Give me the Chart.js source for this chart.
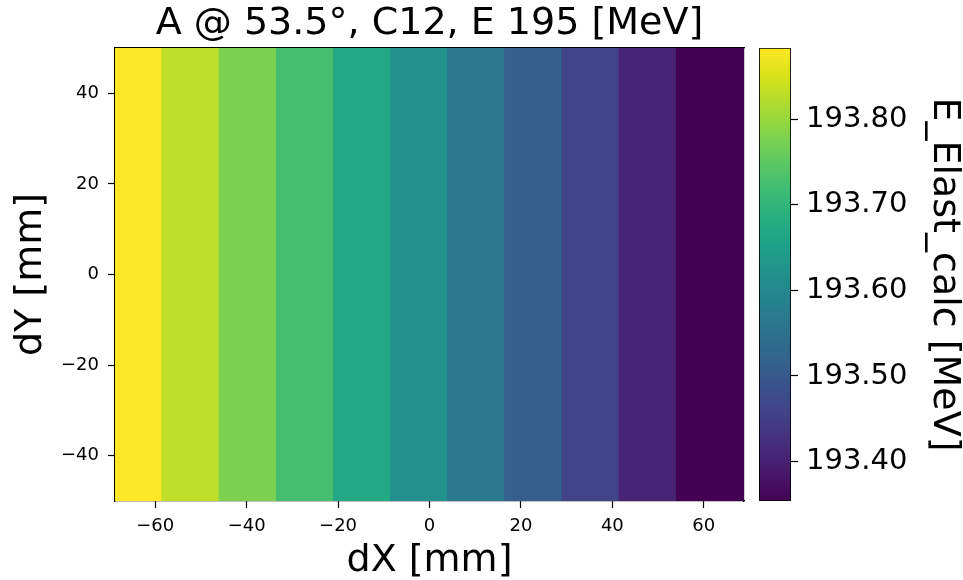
<!DOCTYPE html>
<html>
<head>
<meta charset="utf-8">
<script src="https://cdn.jsdelivr.net/npm/chart.js@4.4.1/dist/chart.umd.min.js"></script>
<style>
  html, body { margin: 0; padding: 0; background: #fff; }
  #wrap { position: relative; width: 963px; height: 580px; overflow: hidden; background: #fff; }
  #main { position: absolute; left: 0; top: 0; }
  #cbar { position: absolute; left: 750px; top: 0; }
</style>
</head>
<body>
<div id="wrap">
  <canvas id="main" width="963" height="580"></canvas>
  <canvas id="cbar" width="213" height="580"></canvas>
</div>
<script>
// ---------- data ----------
const titleText = 'A @ 53.5\u00b0, C12, E 195 [MeV]';
const xLabel = 'dX [mm]';
const yLabel = 'dY [mm]';
const cbarLabel = 'E_Elast_calc [MeV]';
// column (band) edges in dX [mm]
const xEdges = [-68.8, -58.6, -46.1, -33.6, -21.1, -8.6, 3.9, 16.4, 28.9, 41.4, 53.9, 68.8];
// dY extent [mm]
const yRange = [-50, 50];
// E_Elast_calc per dX column [MeV]
const eValues = [193.883, 193.830, 193.777, 193.724, 193.671, 193.618, 193.566, 193.513, 193.460, 193.407, 193.354];
const xTicks = [-60, -40, -20, 0, 20, 40, 60];
const yTicks = [-40, -20, 0, 20, 40];
const cbarTicks = [193.4, 193.5, 193.6, 193.7, 193.8];
const cbarRange = [193.354, 193.883];

// ---------- style ----------
const viridis = ['#440154','#48186a','#472d7b','#424086','#3b528b','#33638d','#2c728e','#26828e',
  '#21918c','#1fa088','#28ae80','#3fbc73','#5ec962','#84d44b','#addc30','#d8e219','#fde725'];
function hex2rgb(h){ return [parseInt(h.substr(1,2),16), parseInt(h.substr(3,2),16), parseInt(h.substr(5,2),16)]; }
function cmap(t){
  t = Math.max(0, Math.min(1, t));
  const p = t * (viridis.length - 1);
  const i = Math.min(Math.floor(p), viridis.length - 2);
  const f = p - i;
  const a = hex2rgb(viridis[i]), b = hex2rgb(viridis[i+1]);
  const c = a.map((v, k) => Math.round(v + (b[k] - v) * f));
  return 'rgb(' + c.join(',') + ')';
}
const FONT = 'DejaVu Sans';
Chart.defaults.font.family = FONT;
Chart.defaults.color = '#000';
const fmtTick = v => (v < 0 ? '\u2212' + Math.abs(v) : String(v));
const frameW = 1.2;

// ---------- main heatmap ----------
// each band is a filled line from the left edge to the band's right edge;
// earlier datasets are drawn on top, so the visible part is exactly the band
const bandSets = eValues.map((v, i) => ({
  data: [{x: xEdges[0], y: yRange[1]}, {x: xEdges[i + 1], y: yRange[1]}],
  fill: 'start',
  backgroundColor: cmap((v - cbarRange[0]) / (cbarRange[1] - cbarRange[0])),
  borderWidth: 0,
  pointRadius: 0,
  xAxisID: 'x',
  yAxisID: 'y'
}));

new Chart(document.getElementById('main'), {
  type: 'line',
  data: { datasets: bandSets },
  options: {
    responsive: false,
    animation: false,
    devicePixelRatio: 1,
    events: [],
    layout: { padding: { left: 0, right: 219, top: 0, bottom: 0 } },
    plugins: {
      legend: { display: false },
      tooltip: { enabled: false },
      title: {
        display: true, text: titleText, color: '#000', fullSize: false,
        font: { family: FONT, size: 38, weight: 'normal', lineHeight: 1.2 },
        padding: { top: 1.4, bottom: 1.0 }
      }
    },
    scales: {
      x: {
        type: 'linear', position: 'bottom', min: xEdges[0], max: xEdges[xEdges.length - 1],
        afterBuildTicks: s => { s.ticks = xTicks.map(v => ({ value: v })); },
        afterFit: s => { s.height = 79; },
        grid: { drawOnChartArea: false, drawTicks: true, tickLength: 7, tickColor: '#000', tickWidth: 1.2 },
        border: { display: true, color: '#000', width: frameW },
        ticks: { color: '#000', font: { size: 18 }, padding: 8, maxRotation: 0, callback: v => fmtTick(v) },
        title: { display: true, text: xLabel, color: '#000', font: { size: 38, lineHeight: 1 }, padding: { top: 0, bottom: 0 } }
      },
      y: {
        type: 'linear', position: 'left', min: yRange[0], max: yRange[1],
        afterBuildTicks: s => { s.ticks = yTicks.map(v => ({ value: v })); },
        afterFit: s => { s.width = 115; },
        grid: { drawOnChartArea: false, drawTicks: true, tickLength: 7, tickColor: '#000', tickWidth: 1.2 },
        border: { display: true, color: '#000', width: frameW },
        ticks: { color: '#000', font: { size: 18 }, padding: 9, callback: v => fmtTick(v) },
        title: { display: true, text: yLabel, color: '#000', font: { size: 38, lineHeight: 1.2 }, padding: { top: 8, bottom: 0 } }
      },
      xTop: {
        type: 'linear', position: 'top', min: xEdges[0], max: xEdges[xEdges.length - 1],
        afterFit: s => { s.height = 0; },
        ticks: { display: false },
        grid: { drawOnChartArea: false, drawTicks: false },
        border: { display: true, color: '#000', width: frameW }
      },
      yRight: {
        type: 'linear', position: 'right', min: yRange[0], max: yRange[1],
        afterFit: s => { s.width = 0; },
        ticks: { display: false },
        grid: { drawOnChartArea: false, drawTicks: false },
        border: { display: true, color: '#000', width: frameW }
      }
    }
  }
});

// ---------- colorbar ----------
new Chart(document.getElementById('cbar'), {
  type: 'bar',
  data: {
    labels: ['cbar'],
    datasets: [{
      data: [cbarRange],
      barPercentage: 1,
      categoryPercentage: 1,
      borderColor: '#000',
      borderWidth: frameW,
      borderSkipped: false,
      backgroundColor: (ctx) => {
        const chart = ctx.chart;
        if (!chart.chartArea) return '#888';
        const ys = chart.scales.y;
        const g = chart.ctx.createLinearGradient(0, ys.getPixelForValue(cbarRange[0]), 0, ys.getPixelForValue(cbarRange[1]));
        viridis.forEach((c, i) => g.addColorStop(i / (viridis.length - 1), c));
        return g;
      }
    }]
  },
  options: {
    responsive: false,
    animation: false,
    devicePixelRatio: 1,
    events: [],
    layout: { padding: { left: 9, right: 0, top: 48, bottom: 79 } },
    plugins: { legend: { display: false }, tooltip: { enabled: false }, title: { display: false } },
    scales: {
      x: { type: 'category', display: false },
      y: {
        type: 'linear', position: 'right', min: cbarRange[0], max: cbarRange[1],
        afterBuildTicks: s => { s.ticks = cbarTicks.map(v => ({ value: v })); },
        afterFit: s => { s.width = 172; },
        grid: { drawOnChartArea: false, drawTicks: true, tickLength: 7, tickColor: '#000', tickWidth: 1.2 },
        border: { display: false },
        ticks: { color: '#000', font: { size: 29 }, padding: 8, callback: v => Number(v).toFixed(2) },
        title: { display: true, text: cbarLabel, color: '#000', font: { size: 38, lineHeight: 1 }, padding: { top: 0, bottom: 0 } }
      }
    }
  }
});
</script>
</body>
</html>
